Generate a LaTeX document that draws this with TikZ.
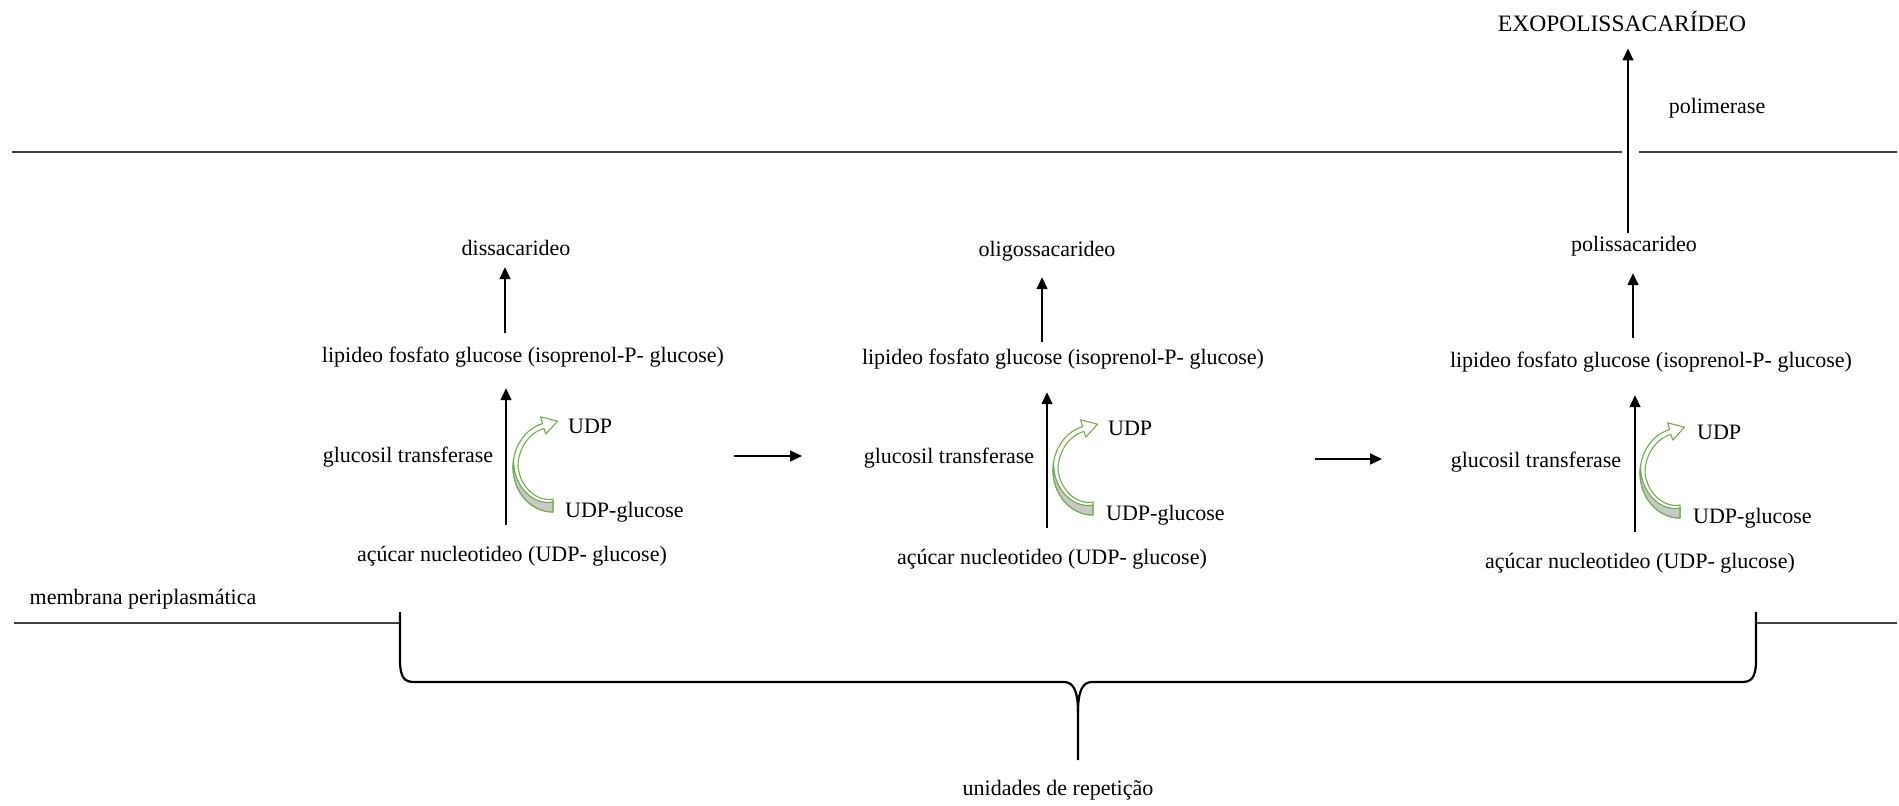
\documentclass[tikz,border=0pt]{standalone}
\usepackage{fontspec}
\setmainfont{Liberation Serif}
\usetikzlibrary{arrows.meta,calc}
\definecolor{grn}{HTML}{70AD47}
\definecolor{gry}{HTML}{C8C8C8}
\definecolor{memb}{HTML}{404040}
\tikzset{
  lbl/.style={font=\fontsize{22}{26}\selectfont, inner sep=0pt, text height=15pt, text depth=5pt},
  arr/.style={line width=1.5pt, -{Triangle[length=12pt,width=11pt]}},
  membline/.style={line width=1.6pt, draw=memb},
  bracel/.style={line width=2.2pt, line join=round},
  grnarrow/.style={draw=grn, line width=1.1pt, line join=round},
}
\newcommand{\greenarr}[2]{%
  \begin{scope}[shift={(#1,-#2)}]
    \path[grnarrow, fill=white]
      plot[domain=-90:-255, samples=60] ({40*cos(\x)},{45*sin(\x)})
      -- (-12.4,50.2) -- (4.5,45.8) -- (-7.2,32.9)
      -- plot[domain=-255:-90, samples=60] ({(40-(5+8*max(0,(\x+180)/90)))*cos(\x)},{(45-(5+8*max(0,(\x+180)/90)))*sin(\x)})
      -- cycle;
    \path[grnarrow, fill=gry]
      plot[domain=-90:-190, samples=40] ({40*cos(\x)},{45*sin(\x)})
      -- plot[domain=-190:-90, samples=40] ({(40-10*max(0,(\x+190)/100))*cos(\x)},{(45-10*max(0,(\x+190)/100))*sin(\x)})
      -- cycle;
  \end{scope}}
\begin{document}
\begin{tikzpicture}[x=1pt,y=1pt]
\useasboundingbox (0,0) rectangle (1899,-806);

% top
\node[font=\fontsize{23.5}{28}\selectfont, inner sep=0pt, anchor=base] (exo) at (1622,-31) {EXOPOLISSACARÍDEO};
\node[lbl] (pol) at (1717,-108) {polimerase};
\coordinate (tl1) at (12,-152); \coordinate (tl2) at (1622,-152);
\coordinate (tl3) at (1639,-152); \coordinate (tl4) at (1897,-152);
\draw[membline] (tl1) -- (tl2) (tl3) -- (tl4);

% column 1
\node[lbl] (dis1) at (516,-250) {dissacarideo};
\node[lbl] (lip1) at (523,-357) {lipideo fosfato glucose (isoprenol-P- glucose)};
\node[lbl] (glu1) at (408,-457) {glucosil transferase};
\node[lbl, anchor=west] (udp1) at (568,-428) {UDP};
\node[lbl, anchor=west] (udpg1) at (565,-512) {UDP-glucose};
\node[lbl] (acu1) at (512,-556) {açúcar nucleotideo (UDP- glucose)};
\coordinate (x1a) at (505,0); \coordinate (x1b) at (506,0);
\draw[arr, shorten <=14pt, shorten >=7pt] (x1a |- lip1.north) -- (x1a |- dis1.south);
\draw[arr, shorten <=21pt, shorten >=21pt] (x1b |- acu1.north) -- (x1b |- lip1.south);
\greenarr{553}{467}

% column 2
\node[lbl] (oli2) at (1047,-251) {oligossacarideo};
\node[lbl] (lip2) at (1063,-359) {lipideo fosfato glucose (isoprenol-P- glucose)};
\node[lbl] (glu2) at (949,-458) {glucosil transferase};
\node[lbl, anchor=west] (udp2) at (1108,-430) {UDP};
\node[lbl, anchor=west] (udpg2) at (1106,-515) {UDP-glucose};
\node[lbl] (acu2) at (1052,-559) {açúcar nucleotideo (UDP- glucose)};
\coordinate (x2a) at (1042,0); \coordinate (x2b) at (1047,0);
\draw[arr, shorten <=7pt, shorten >=16pt] (x2a |- lip2.north) -- (x2a |- oli2.south);
\draw[arr, shorten <=21pt, shorten >=23pt] (x2b |- acu2.north) -- (x2b |- lip2.south);
\greenarr{1093}{470}

% column 3
\node[lbl] (pol3) at (1634,-246) {polissacarideo};
\node[lbl] (lip3) at (1651,-362) {lipideo fosfato glucose (isoprenol-P- glucose)};
\node[lbl] (glu3) at (1536,-462) {glucosil transferase};
\node[lbl, anchor=west] (udp3) at (1697,-434) {UDP};
\node[lbl, anchor=west] (udpg3) at (1693,-518) {UDP-glucose};
\node[lbl] (acu3) at (1640,-563) {açúcar nucleotideo (UDP- glucose)};
\coordinate (x3a) at (1633,0); \coordinate (x3b) at (1635,0); \coordinate (x3p) at (1628,0);
\draw[arr, shorten <=14pt, shorten >=17pt] (x3a |- lip3.north) -- (x3a |- pol3.south);
\draw[arr, shorten <=21pt, shorten >=23pt] (x3b |- acu3.north) -- (x3b |- lip3.south);
\draw[arr, shorten <=3pt, shorten >=17pt] (x3p |- pol3.north) -- (x3p |- exo.south);
\greenarr{1680}{473}

% horizontal arrows between units
\coordinate (h1s) at (734,-456); \coordinate (h1e) at (802,-456);
\coordinate (h2s) at (1315,-459); \coordinate (h2e) at (1382,-459);
\draw[arr] (h1s) -- (h1e);
\draw[arr] (h2s) -- (h2e);

% membrane and brace
\node[lbl] (mem) at (143,-599) {membrana periplasmática};
\coordinate (ml1) at (14,-623); \coordinate (ml2) at (400,-623);
\coordinate (mr1) at (1756,-623); \coordinate (mr2) at (1897,-623);
\draw[membline] (ml1) -- (ml2) (mr1) -- (mr2);
\draw[bracel] (400,-612) -- (400,-664) .. controls (401,-677) and (404,-682) .. (414,-682)
  -- (1064,-682) .. controls (1073,-682) and (1078,-690) .. (1078,-712) -- (1078,-760);
\draw[bracel] (1078,-712) .. controls (1078,-690) and (1083,-682) .. (1092,-682)
  -- (1742,-682) .. controls (1752,-682) and (1755,-677) .. (1756,-664) -- (1756,-612);
\node[lbl] (uni) at (1058,-790) {unidades de repetição};
\end{tikzpicture}
\end{document}
